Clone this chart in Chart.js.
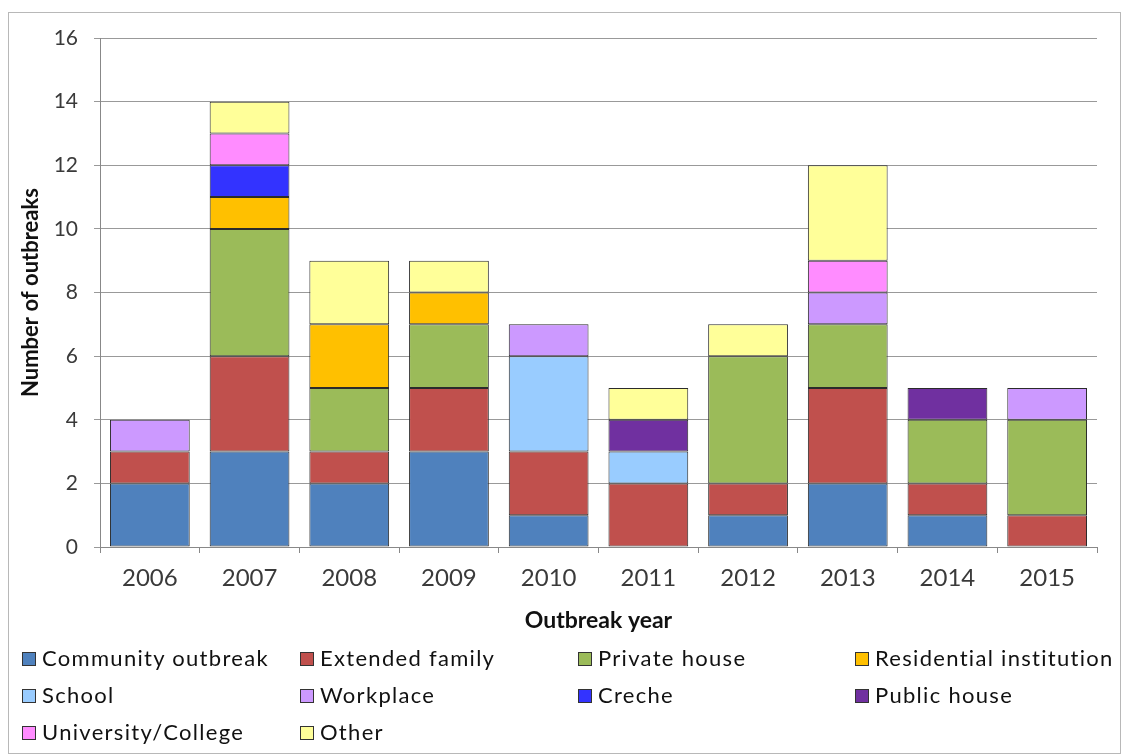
<!DOCTYPE html>
<html>
<head>
<meta charset="utf-8">
<script src="https://cdn.jsdelivr.net/npm/chart.js@4.4.0/dist/chart.umd.min.js"></script>
<style>
    body { margin: 0; background: #fff; }
    #wrap { position: relative; width: 1125px; height: 756px; }
    #frame { position: absolute; left: 8px; top: 12px; width: 1113px; height: 742px; border: 1px solid #b8b8b8; box-sizing: border-box; pointer-events: none; }
    #legend { position: absolute; left: 22px; top: 645px; width: 1100px; font-family: Lato, "Open Sans", sans-serif; font-size: 22px; letter-spacing: 1.3px; color: #111; }
    .item { position: absolute; white-space: nowrap; line-height: 26px; }
    .item span.box { display: inline-block; width: 12px; height: 12px; border: 1px solid #333; margin-right: 6px; vertical-align: 0px; }
</style>
</head>
<body>
<div id="wrap">
    <canvas id="outbreakChart" width="1125" height="756"></canvas>
    <div id="frame"></div>
    <div id="legend"></div>
</div>
<script>
const years = ['2006', '2007', '2008', '2009', '2010', '2011', '2012', '2013', '2014', '2015'];
const yTicks = [0, 2, 4, 6, 8, 10, 12, 14, 16];

const community   = [2, 3, 2, 3, 1, 0, 1, 2, 1, 0];
const extended    = [1, 3, 1, 2, 2, 2, 1, 3, 1, 1];
const privateHse  = [0, 4, 2, 2, 0, 0, 4, 2, 2, 3];
const residential = [0, 1, 2, 1, 0, 0, 0, 0, 0, 0];
const school      = [0, 0, 0, 0, 3, 1, 0, 0, 0, 0];
const workplace   = [1, 0, 0, 0, 1, 0, 0, 1, 0, 1];
const creche      = [0, 1, 0, 0, 0, 0, 0, 0, 0, 0];
const publicHouse = [0, 0, 0, 0, 0, 1, 0, 0, 1, 0];
const university  = [0, 1, 0, 0, 0, 0, 0, 1, 0, 0];
const other       = [0, 1, 2, 1, 0, 1, 1, 3, 0, 0];

const seriesNames = ['Community outbreak', 'Extended family', 'Private house', 'Residential institution',
    'School', 'Workplace', 'Creche', 'Public house', 'University/College', 'Other'];
const seriesData = [community, extended, privateHse, residential, school, workplace, creche, publicHouse, university, other];
const seriesColors = ['#4f81bd', '#c0504d', '#9bbb59', '#ffc000', '#99ccff', '#cc99ff', '#3333ff', '#7030a0', '#ff8cff', '#ffff99'];

const fontFamily = 'Lato, "Open Sans", sans-serif';

const datasets = seriesNames.map(function (name, i) {
    return {
        label: name,
        data: seriesData[i],
        backgroundColor: seriesColors[i],
        borderColor: '#2b2b2b',
        borderWidth: 1,
        borderSkipped: false,
        barPercentage: 0.8,
        categoryPercentage: 1.0
    };
});

const ctx = document.getElementById('outbreakChart').getContext('2d');
new Chart(ctx, {
    type: 'bar',
    data: { labels: years, datasets: datasets },
    options: {
        responsive: false,
        animation: false,
        layout: { padding: { left: 0, top: 38, right: 28, bottom: 119 } },
        plugins: { legend: { display: false }, tooltip: { enabled: false } },
        scales: {
            x: {
                stacked: true,
                afterFit: function (scale) { scale.height = 90; },
                grid: { display: true, drawOnChartArea: false, offset: true, tickLength: 6, color: '#888' },
                border: { color: '#888' },
                ticks: { font: { family: fontFamily, size: 24 }, color: '#3a3a3a', padding: 11 },
                title: { display: true, text: 'Outbreak year', font: { family: fontFamily, size: 23, weight: 'bold' }, color: '#111', padding: { top: 0, bottom: 3 } }
            },
            y: {
                stacked: true,
                min: 0,
                max: 16,
                afterFit: function (scale) { scale.width = 100; },
                afterBuildTicks: function (scale) { scale.ticks = yTicks.map(v => ({ value: v })); },
                grid: { color: '#999', tickLength: 6 },
                border: { color: '#888' },
                ticks: { font: { family: fontFamily, size: 21 }, color: '#3a3a3a', padding: 16 },
                title: { display: true, text: 'Number of outbreaks', font: { family: fontFamily, size: 22, weight: 'bold' }, color: '#111', padding: { top: 18, bottom: 0 } }
            }
        }
    }
});

// legend laid out in 4 columns like the original
const legendCols = [0, 278, 556, 833];
const legendRows = [0, 37, 74];
const legendDiv = document.getElementById('legend');
seriesNames.forEach(function (name, i) {
    const item = document.createElement('div');
    item.className = 'item';
    item.style.left = legendCols[i % 4] + 'px';
    item.style.top = legendRows[Math.floor(i / 4)] + 'px';
    item.innerHTML = '<span class="box" style="background:' + seriesColors[i] + '"></span>' + name;
    legendDiv.appendChild(item);
});
</script>
</body>
</html>
